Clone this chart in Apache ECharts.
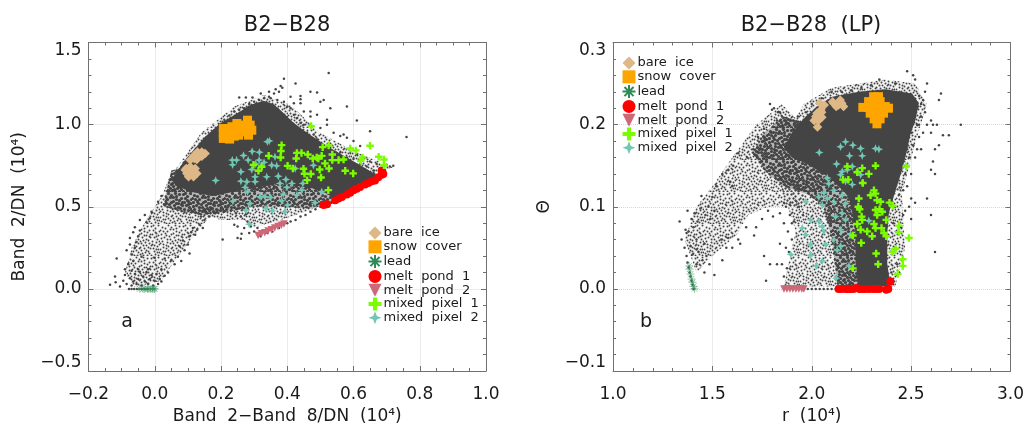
<!DOCTYPE html>
<html><head><meta charset="utf-8">
<style>html,body{margin:0;padding:0;background:#fff}#c{width:1025px;height:425px}</style>
<script src="https://cdn.jsdelivr.net/npm/echarts@6/dist/echarts.min.js"></script>
</head><body><div id="c"></div>
<script>
// ---------- panel a values (Band 2-Band 8, Band 2), units of 10^4 ----------
const aCore=[[.052,.662],[.067,.713],[.087,.774],[.117,.845],[.152,.926],[.197,1.007],[.248,1.068],[.288,1.119],[.328,1.145],[.358,1.125],[.384,1.08],[.42,1.01],[.46,.95],[.52,.87],[.58,.8],[.64,.73],[.68,.68],[.61,.622],[.54,.551],[.519,.581],[.479,.611],[.378,.642],[.288,.611],[.177,.565],[.107,.591],[.062,.632]];
const aDense=[[.03,.55],[.05,.72],[.2,.8],[.4,.8],[.56,.65],[.54,.52],[.47,.49],[.38,.5],[.3,.5],[.22,.47],[.14,.45],[.08,.47],[.03,.5]];
const aUpperFringe=[[.06,.72],[.14,.95],[.24,1.11],[.33,1.18],[.41,1.12],[.5,.95],[.6,.84],[.72,.74],[.64,.68],[.53,.8],[.41,.95],[.36,1.08],[.33,1.1],[.25,1.02],[.15,.85]];
const aTailBand=[[-.09,.1],[-.07,.25],[-.04,.37],[-.01,.47],[.02,.56],[.045,.68],[.14,.6],[.17,.45],[.11,.3],[.06,.17],[.02,.05],[-.06,.01]];
const aLowerBand=[[.2,.42],[.27,.42],[.3,.37],[.38,.42],[.47,.48],[.54,.54],[.5,.6],[.3,.6],[.15,.55],[.15,.45]];
const aDots=[[-.135,.025],[-.118,.04],[-.12,.075],[-.105,.015],[-.095,.05],[-.085,.03],[-.09,.085],[-.075,.065],[-.07,.02],[-.065,.045],[-.06,.09],[-.055,.03],[-.05,.06],[-.045,.105],[-.04,.02],[-.035,.075],[-.03,.045],[-.025,.1],[-.02,.03],[-.015,.06],[-.01,.085],[-.005,.02],[0,.05],[.005,.09],[.01,.03],[.015,.06],[.02,.045],[.03,.08],[.04,.1],
[-.115,.185],[-.09,.12],[-.08,.15],[-.07,.11],[-.065,.17],[-.05,.12],[-.04,.195],[-.02,.12],[0,.19],[.02,.12],[.03,.185],[.05,.175],[.06,.15],[.07,.195],[.08,.17],
[-.085,.235],[-.075,.27],[-.07,.21],[-.06,.25],[-.055,.285],[.085,.295],[.09,.235],[.1,.27],[.105,.215],[.075,.26],
[-.075,.31],[-.065,.345],[-.06,.375],[-.05,.32],[-.045,.355],[.105,.32],[.11,.345],[.115,.37],[.122,.33],[.128,.36],[.135,.39],[.145,.37],
[-.045,.42],[-.03,.45],[-.025,.405],[-.015,.43],[-.01,.47],[.14,.44],[.145,.475],[.15,.42],[.155,.46],[.165,.44],[.17,.485],[.18,.46],[.19,.48],
[.01,.53],[.02,.565],[.028,.515],[.035,.555],[.04,.6],[.19,.465],[.2,.49],[.21,.47],[.22,.495],[.23,.475],[.245,.46],[.25,.49],[.26,.44],[.265,.48],[.275,.455],[.28,.49],
[.045,.665],[.052,.7],[.06,.675],[.067,.72],[.075,.7],[.08,.74],[.09,.72],[.095,.76],[.105,.79],[.12,.83],[.135,.87],[.15,.905],[.165,.94],[.18,.965],[.195,1],[.21,1.03],[.225,1.055],[.24,1.08],[.255,1.09],[.27,1.1],[.285,1.125],[.3,1.14],[.315,1.15],[.33,1.16],[.345,1.17],[.36,1.19],[.375,1.2],[.35,1.16],[.37,1.15],[.39,1.14],[.4,1.11],[.41,1.1],[.42,1.06],[.43,1.04],[.44,1.01],[.45,1],[.46,.95],[.47,.92],[.48,.94],[.49,.91],[.5,.88],[.51,.87],[.52,.85],[.53,.84],[.54,.82],[.55,.81],[.56,.83],[.58,.8],[.6,.79],[.62,.76],[.64,.745],[.66,.72],[.68,.735],[.695,.72],[.71,.745],[.72,.75],[.7,.755],[.67,.76],[.65,.775],[.63,.8],[.61,.82],[.59,.835],
[.255,1.165],[.275,1.165],[.295,1.165],[.32,1.19],[.345,1.2],[.365,1.215],[.385,1.225],[.38,1.235],[.39,1.28],[.425,1.25],[.44,1.175],[.44,1.155],[.47,1.2],[.49,1.195],[.51,1.15],[.525,1.315],[.5,1.14],[.53,1.1],[.58,1.11],[.61,1.025],[.65,.96],[.76,.925],[.44,1.13],[.47,1.08],[.49,1.06],[.52,1.03],[.5,.98],[.52,1],[.54,.95],[.56,.93],[.47,1.05],[.45,1.08],[.41,1.17],[.42,1.13],[.57,.94],[.58,.92],[.6,.9],[.62,.87],
[.32,.32],[.34,.34],[.355,.35],[.375,.37],[.4,.4],[.41,.41],[.425,.42],[.44,.44],[.455,.45],[.47,.47],[.485,.485],[.5,.5],[.262,.335],[.25,.31],[.205,.3],[.26,.305],[.27,.37],[.285,.34],[.3,.35],[.29,.38],[.31,.37],[.24,.39],[.25,.38],[.28,.41],
[-.078,0],[-.07,0],[-.062,0],[-.054,0],[-.046,0],[-.038,0],[-.03,0],[-.022,0]];
const aBareIce=[[.095,.733],[.107,.743],[.122,.733],[.097,.703],[.112,.713],[.127,.703],[.102,.682],[.117,.682],[.092,.723],[.107,.72],[.107,.784],[.119,.794],[.132,.814],[.129,.834],[.142,.834],[.152,.824],[.142,.808],[.127,.788],[.118,.81]];
const aSnow=[[.207,.946],[.207,.916],[.22,.976],[.223,.936],[.226,.912],[.233,.987],[.238,.956],[.248,1.007],[.253,.976],[.253,.936],[.263,.997],[.268,.956],[.28,1.027],[.288,.997],[.293,.966],[.283,.936],[.207,.976],[.275,.98],[.24,.93]];
const aLead=[[-.045,0],[-.035,0],[-.03,0],[-.022,0],[-.018,0],[-.012,0],[-.007,0],[-.002,0],[0,0]];
const aPond1=[[.51,.51],[.52,.515],[.545,.54],[.555,.55],[.565,.56],[.58,.575],[.59,.585],[.6,.6],[.61,.61],[.62,.62],[.635,.635],[.645,.645],[.655,.655],[.665,.66],[.675,.68],[.685,.695],[.69,.7],[.685,.72]];
const aPond2=[[.312,.325],[.322,.335],[.332,.342],[.342,.352],[.352,.36],[.362,.37],[.372,.38],[.382,.388],[.39,.395]];
const aMixed1=[[.472,.991],[.65,.871],[.59,.855],[.607,.843],[.525,.873],[.507,.863],[.383,.875],[.381,.839],[.38,.8],[.344,.81],[.429,.828],[.443,.828],[.462,.818],[.427,.794],[.477,.794],[.489,.8],[.504,.81],[.536,.818],[.536,.784],[.555,.784],[.57,.788],[.627,.8],[.622,.78],[.676,.804],[.692,.788],[.692,.753],[.298,.755],[.323,.743],[.313,.719],[.401,.749],[.417,.733],[.449,.731],[.452,.701],[.471,.699],[.46,.662],[.502,.678],[.498,.727],[.514,.764],[.526,.733],[.575,.719],[.599,.703],[.524,.601],[.494,.794]];
const aMixed2=[[.346,.901],[.34,.896],[.294,.837],[.316,.832],[.268,.812],[.282,.784],[.234,.784],[.235,.755],[.247,.784],[.315,.784],[.305,.76],[.293,.727],[.26,.713],[.184,.66],[.353,.753],[.368,.749],[.363,.804],[.338,.682],[.303,.682],[.26,.656],[.278,.652],[.373,.686],[.378,.642],[.396,.666],[.424,.733],[.479,.752],[.414,.642],[.447,.642],[.273,.618],[.28,.591],[.318,.561],[.333,.561],[.35,.557],[.399,.618],[.388,.577],[.429,.571],[.444,.601],[.504,.591],[.236,.534],[.288,.52],[.383,.536],[.401,.51],[.484,.524],[.276,.48],[.336,.49],[.355,.476],[.393,.47],[.285,.394],[.303,.652],[.33,.77],[.322,.75]];
// ---------- panel b values (r, theta) ----------
const bCore=[[1.86,.172],[1.9,.19],[1.969,.21],[2.036,.224],[2.103,.234],[2.237,.24],[2.371,.243],[2.505,.238],[2.539,.226],[2.522,.206],[2.497,.189],[2.48,.169],[2.455,.145],[2.422,.12],[2.388,.092],[2.38,.068],[2.38,.031],[2.396,.003],[2.237,.003],[2.22,.031],[2.22,.068],[2.204,.092],[2.187,.112],[2.12,.129],[2.053,.141],[1.969,.153],[1.9,.16]];
const bDense=[[1.76,.19],[1.86,.21],[2,.2],[2.3,.1],[2.3,.003],[2.13,.003],[2.1,.06],[2.06,.1],[1.98,.115],[1.86,.125],[1.78,.14],[1.7,.165]];
const bWing=[[1.36,.06],[1.42,.1],[1.5,.125],[1.6,.16],[1.72,.2],[1.85,.225],[1.95,.2],[2,.15],[1.95,.1],[1.78,.1],[1.68,.09],[1.62,.065],[1.5,.04],[1.42,.02]];
const bColumn=[[1.84,.13],[2.1,.14],[2.2,.08],[2.2,.003],[1.86,.003],[1.89,.04],[1.92,.07]];
const bRightBand=[[2.36,.1],[2.45,.13],[2.47,.05],[2.42,.003],[2.37,.003],[2.36,.05]];
const bRim=[[1.85,.18],[1.96,.225],[2.1,.245],[2.37,.255],[2.52,.25],[2.58,.225],[2.53,.185],[2.49,.15],[2.46,.12],[2.4,.12],[2.48,.19],[2.48,.23],[2.1,.22],[1.95,.19]];
const bDots=[[1.335,.082],[1.345,.06],[1.36,.05],[1.365,.072],[1.37,.068],[1.38,.07],[1.375,.095],[1.39,.052],[1.395,.085],[1.4,.042],[1.405,.075],[1.41,.092],[1.42,.03],[1.42,.06],[1.425,.082],[1.43,.045],[1.44,.098],[1.445,.113],[1.45,.035],[1.46,.055],[1.465,.09],[1.47,.04],[1.48,.1],[1.485,.03],[1.49,.085],[1.5,.112],[1.51,.017],[1.51,.095],[1.52,.125],[1.545,.06],[1.55,.14],[1.57,.05],[1.59,.13],[1.605,.15],[1.63,.165],[1.675,.16],[1.705,.17],[1.71,.065],[1.73,.185],[1.76,.195],[1.795,.19],[1.825,.205],[1.855,.195],[1.91,.2],[1.93,.21],
[1.58,.145],[1.6,.125],[1.805,.088],[1.78,.095],[1.75,.085],[1.84,.092],[1.72,.075],[1.67,.075],[1.63,.06],[1.58,.062],[1.6,.05],[1.55,.035],[1.42,.048],[1.46,.02],[1.81,.22],[1.83,.215],[1.85,.21],[1.87,.205],[1.82,.19],[1.79,.225],[1.8,.218],[1.76,.04],[1.64,.055],[1.84,.215],
[1.85,.03],[1.86,.015],[1.87,.05],[1.875,.025],[1.88,.07],[1.885,.045],[1.9,.06],[1.91,.082],[1.935,.1],[1.955,.09],[1.825,.03],[1.84,.055],[1.77,.01],[1.79,.03],[1.86,.08],[1.87,.1],[1.89,.09],[1.86,.105],[1.9,.08],
[2.4,.11],[2.41,.08],[2.42,.05],[2.43,.03],[2.4,.02],[2.41,.01],[2.42,.1],[2.43,.13],[2.44,.115],[2.45,.075],[2.44,.02],[2.45,.165],[2.46,.18],[2.47,.15],[2.48,.125],[2.5,.14],[2.52,.16],[2.54,.185],[2.53,.2],[2.55,.21],[2.56,.23],[2.57,.215],[2.58,.2],[2.6,.19],[2.61,.2],[2.64,.23],[2.65,.238],[2.58,.25],[2.52,.255],[2.51,.26],[2.48,.265],[2.42,.25],[2.34,.255],[2.3,.248],[2.25,.245],[2.2,.242],[2.15,.24],[2.1,.24],[2.05,.232],[2,.225],[1.97,.215],[1.96,.205],[2.54,.235],[2.55,.225],[2.57,.24],[2.56,.19],[2.55,.17],[2.5,.11],[2.52,.105],[2.6,.145],[2.62,.14],[2.64,.175],[2.62,.17],[2.66,.187],[2.75,.2],[2.69,.187],[2.61,.155],[2.6,.205],[2.63,.2],[2.62,.045],[2.58,.11],[2.6,.09],[2.5,.085],[2.49,.1],[2.47,.095],[2.46,.12],[2.44,.15],[2.48,.17],[2.5,.19],[2.52,.21],[2.54,.2],[2.53,.17],[2.49,.16],[2.51,.175],[2.47,.14],[2.46,.09],
[1.37,.04],[1.375,.032],[1.38,.026],[1.385,.02],[1.39,.015],[1.395,.01],[1.4,.005],[1.405,0],[1.96,0],[1.98,0],[2,0],[2.02,0],[2.04,0],[2.06,0],[2.08,0],[2.1,0],[2.12,0]];
const bBareIce=[[2.029,.197],[2.012,.205],[2.034,.205],[2.051,.209],[2.026,.214],[2.046,.218],[2.063,.224],[2.042,.226],[2.105,.228],[2.123,.222],[2.143,.23],[2.151,.226],[2.16,.222],[2.135,.224],[2.11,.226],[2.02,.21],[2.05,.215]];
const bSnow=[[2.311,.234],[2.336,.234],[2.286,.228],[2.311,.228],[2.344,.228],[2.257,.221],[2.286,.221],[2.314,.221],[2.344,.221],[2.386,.22],[2.294,.214],[2.328,.214],[2.361,.214],[2.314,.207],[2.344,.207],[2.328,.201],[2.37,.222]];
const bLead=[[1.385,.024],[1.39,.018],[1.395,.012],[1.4,.008],[1.405,.003],[1.41,0],[1.383,.028]];
const bPond1=[[2.135,0],[2.15,0],[2.17,0],[2.18,0],[2.195,0],[2.21,0],[2.225,.001],[2.24,0],[2.255,0],[2.27,0],[2.29,0],[2.31,0],[2.325,0],[2.34,0],[2.375,-.001],[2.385,0],[2.395,.009]];
const bPond2=[[1.86,0],[1.875,0],[1.89,0],[1.905,0],[1.92,0],[1.935,0],[1.95,0],[1.96,0]];
const bMixed1=[[2.475,.149],[2.321,.15],[2.179,.149],[2.254,.147],[2.229,.142],[2.287,.14],[2.157,.133],[2.184,.133],[2.257,.129],[2.313,.12],[2.321,.116],[2.296,.114],[2.237,.11],[2.329,.108],[2.234,.1],[2.241,.097],[2.346,.106],[2.321,.096],[2.341,.097],[2.329,.09],[2.355,.094],[2.391,.105],[2.408,.101],[2.251,.088],[2.254,.084],[2.375,.084],[2.229,.079],[2.313,.079],[2.321,.074],[2.246,.072],[2.279,.07],[2.351,.074],[2.438,.077],[2.438,.069],[2.304,.064],[2.207,.065],[2.363,.068],[2.375,.064],[2.489,.062],[2.249,.056],[2.422,.049],[2.405,.045],[2.324,.043],[2.458,.036],[2.458,.028],[2.334,.03],[2.207,.025],[2.433,.018]];
const bMixed2=[[2.17,.179],[2.145,.173],[2.207,.175],[2.246,.171],[2.19,.162],[2.254,.162],[2.038,.166],[2.321,.171],[2.338,.17],[2.125,.152],[2.153,.143],[2.179,.145],[2.204,.149],[2.229,.143],[2.145,.139],[2.246,.139],[2.17,.131],[2.204,.127],[2.254,.129],[2.078,.135],[2.086,.128],[2.111,.12],[2.061,.117],[2.036,.112],[2.153,.114],[2.078,.11],[1.969,.106],[2.053,.102],[2.111,.106],[2.17,.104],[1.994,.084],[2.036,.082],[1.952,.074],[2.053,.076],[2.145,.072],[1.969,.066],[2.061,.07],[2.153,.092],[2.17,.084],[2.12,.088],[2.287,.083],[2.195,.066],[2.111,.06],[2.145,.052],[1.994,.054],[2.07,.054],[1.894,.042],[2.128,.047],[1.994,.041],[2.023,.028],[2.053,.034],[2.187,.028],[2.123,.013]];
// ---------- text ----------
const titles=['B2−B28','B2−B28  (LP)'];
const xNames=['Band  2−Band  8/DN  (10⁴)','r  (10⁴)'];
const yNames=['Band  2/DN  (10⁴)','Θ'];
const panelLetters=['a','b'];
const legendNames=['bare ice','snow cover','lead','melt pond 1','melt pond 2','mixed pixel 1','mixed pixel 2'];
// stipple tile used to shade the regions where the dots overlap heavily
const stippleTile=[[2,3],[8,1],[13,5],[19,2],[25,6],[30,1],[5,9],[11,10],[16,7],[22,10],[28,9],[1,14],[7,15],[14,13],[20,16],[26,13],[31,17],[3,20],[10,19],[17,18],[23,21],[29,22],[0,25],[6,24],[12,23],[18,26],[25,24],[31,28],[4,30],[10,28],[15,31],[21,29],[27,30],
[5,4],[15,1],[21,6],[31,7],[9,12],[18,11],[24,17],[2,17],[12,17],[28,18],[6,21],[15,21],[20,23],[30,25],[3,27],[8,26],[17,28],[26,27],[12,30],[19,31],[23,2],[1,10],[13,9],[28,12],[18,21],[24,20],[6,31],[29,28],[22,13],[10,5],[27,4],
[0,6],[4,13],[7,7],[11,3],[16,4],[19,8],[24,10],[30,11],[3,23],[7,18],[10,15],[15,16],[21,19],[26,21],[31,20],[1,29],[5,27],[9,31],[13,26],[16,24],[20,27],[23,31],[28,25],[0,19],[6,11],[13,19],[22,24],[25,1],[29,15],[16,11],[3,7],[11,24],[18,15],[27,8],[8,22],[14,29],[30,31],[21,12]];

const FONT='DejaVu Sans', INK='#1a1a1a', FRAME='#707070', DOT='#444444';
const PLUS='path://M34 0H66V34H100V66H66V100H34V66H0V34H34Z';
const STAR4='path://M50 0L64 36L100 50L64 64L50 100L36 64L0 50L36 36Z';
const DOWN='path://M0 0H100L50 100Z';
const AST='path://M50 0V100M0 50H100M15 15L85 85M85 15L15 85';
const fmt=v=>(v<0?'−':'')+Math.abs(v).toFixed(1);
function tile(count,radius,shade){
  const c=document.createElement('canvas');c.width=c.height=32;
  const x=c.getContext('2d');x.fillStyle=shade;x.fillRect(0,0,32,32);x.fillStyle=DOT;
  stippleTile.slice(0,count).forEach(p=>{x.beginPath();x.arc(p[0]+.5,p[1]+.5,radius,0,7);x.fill();});
  return {type:'pattern',image:c,repeat:'repeat'};
}
const sparse=tile(stippleTile.length,.95,'rgba(68,68,68,.06)'), dense=tile(stippleTile.length,1.6,'rgba(68,68,68,.35)');

const grids=[{left:88.5,top:42.5,width:397.5,height:328.5,outerBoundsMode:'none'},{left:613,top:42.5,width:397.5,height:328.5,outerBoundsMode:'none'}];
const xr=[{min:-.2,max:1,interval:.2,minor:4},{min:1,max:3,interval:.5,minor:5}];
const yr=[{min:-.5,max:1.5,interval:.5,minor:5},{min:-.1,max:.3,interval:.1,minor:5}];
function axis(r,g,pos,main,name,gap){
  const vertical=pos==='left'||pos==='right';
  return {type:'value',gridIndex:g,position:pos,min:r.min,max:r.max,interval:r.interval,
    name:main?name:'',nameLocation:'middle',nameGap:gap,nameTextStyle:{fontFamily:FONT,fontSize:17,color:INK},
    axisLine:{show:true,onZero:false,lineStyle:{color:FRAME,width:1}},
    axisTick:{show:true,inside:true,length:5,lineStyle:{color:FRAME,width:1}},
    minorTick:{show:true,splitNumber:r.minor,length:3,lineStyle:{color:FRAME,width:1}},
    axisLabel:{show:main,formatter:fmt,fontFamily:FONT,fontSize:17,color:INK,margin:vertical?7:15,showMinLabel:true,showMaxLabel:true,hideOverlap:false,
      verticalAlignMaxLabel:vertical?'top':undefined,verticalAlignMinLabel:vertical?'bottom':undefined},
    splitLine:{show:main,lineStyle:{color:'#d8d8d8',type:'dotted',width:1}}};
}
const xAxes=[],yAxes=[];
[0,1].forEach(g=>{
  xAxes.push(axis(xr[g],g,'bottom',true,xNames[g],31),axis(xr[g],g,'top',false));
  yAxes.push(axis(yr[g],g,'left',true,yNames[g],60),axis(yr[g],g,'right',false));
});
function polygon(data,ax,ay,fill){
  return {type:'custom',name:'dense',xAxisIndex:ax,yAxisIndex:ay,silent:true,data:data,
    renderItem:(p,api)=>p.dataIndex===0?{type:'polygon',shape:{points:data.map(d=>api.coord(d))},style:{fill:fill}}:null};
}
function scat(name,data,ax,ay,symbol,size,style){
  return {type:'scatter',name:name,xAxisIndex:ax,yAxisIndex:ay,data:data,symbol:symbol,symbolSize:size,itemStyle:Object.assign({opacity:1},style),silent:true,animation:false};
}
function panel(g,bands,core,dots,ice,snow,lead,p1,p2,m1,m2){
  const ax=g*2,ay=g*2;
  return bands.map(b=>polygon(b[0],ax,ay,b[1])).concat([
    polygon(core,ax,ay,DOT),
    scat('dots',dots,ax,ay,'circle',2.5,{color:DOT}),
    scat(legendNames[0],ice,ax,ay,'diamond',9.5,{color:'#DEB887'}),
    scat(legendNames[1],snow,ax,ay,'rect',9,{color:'#FFA500'}),
    scat(legendNames[2],lead,ax,ay,AST,8,{color:'transparent',borderColor:'#2E8B57',borderWidth:.5}),
    scat(legendNames[3],p1,ax,ay,'circle',8,{color:'#FF0000'}),
    scat(legendNames[4],p2,ax,ay,DOWN,7.5,{color:'#CD6878'}),
    scat(legendNames[6],m2,ax,ay,STAR4,8.5,{color:'#72C6B4'}),
    scat(legendNames[5],m1,ax,ay,PLUS,7.5,{color:'#7CFC00'})
  ]);
}
const series=[].concat(
  panel(0,[[aTailBand,sparse],[aUpperFringe,sparse],[aLowerBand,sparse],[aDense,dense]],aCore,aDots,aBareIce,aSnow,aLead,aPond1,aPond2,aMixed1,aMixed2),
  panel(1,[[bWing,sparse],[bColumn,sparse],[bRightBand,sparse],[bRim,sparse],[bDense,dense]],bCore,bDots,bBareIce,bSnow,bLead,bPond1,bPond2,bMixed1,bMixed2));
const icons=['diamond','rect',AST,'circle',DOWN,PLUS,STAR4];
const legendData=legendNames.map((n,i)=>({name:n,icon:icons[i]}));
function legend(left,top){
  return {orient:'vertical',left:left,top:top,padding:0,itemWidth:13,itemHeight:13,itemGap:.8,selectedMode:false,data:legendData,
    formatter:n=>n.replace(/ /g,'  '),
    textStyle:{fontFamily:FONT,fontSize:13,color:INK,lineHeight:13,padding:[0,0,0,-3]}};
}
const t=(text,cx,top,size)=>({text:text,left:cx,top:top,textAlign:'center',padding:0,textStyle:{fontFamily:FONT,fontSize:size,fontWeight:'normal',color:INK}});
const option={animation:false,backgroundColor:'#fff',grid:grids,xAxis:xAxes,yAxis:yAxes,series:series,
  legend:[legend(367.5,226.5),legend(621.5,56.5)],
  title:[t(titles[0],287,15,21),t(titles[1],811,15,21),t(panelLetters[0],127,313,19),t(panelLetters[1],646,313,19)]};
const chart=echarts.init(document.getElementById('c'),null,{renderer:'canvas'});
chart.setOption(option);
</script></body></html>
